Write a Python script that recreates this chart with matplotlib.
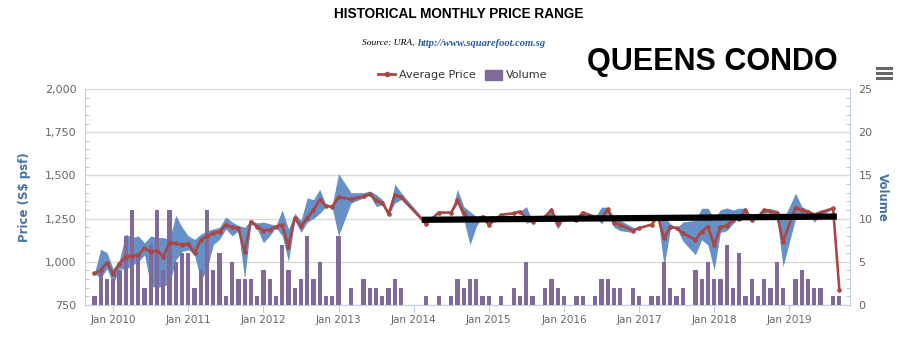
import numpy as np
import matplotlib.pyplot as plt
from matplotlib.lines import Line2D
from matplotlib.patches import Patch

plt.rcParams.update({'font.size': 8, 'font.family': ['DejaVu Sans']})

# month index: 0 = Jan 2010, data runs Oct 2009 (-3) .. Sep 2019 (116)
months = np.arange(-3, 117)

volume = [1, 4, 3,
          3, 4, 8, 11, 6, 2, 7, 11, 4, 11, 5, 6,
          6, 2, 4, 11, 4, 6, 1, 5, 3, 3, 3, 1,
          4, 3, 1, 7, 4, 2, 3, 8, 3, 5, 1, 1,
          8, 0, 2, 0, 3, 2, 2, 1, 2, 3, 2, 0,
          0, 0, 1, 0, 1, 0, 1, 3, 2, 3, 3, 1,
          1, 0, 1, 0, 2, 1, 5, 1, 0, 2, 3, 2,
          1, 0, 1, 1, 0, 1, 3, 3, 2, 2, 0, 2,
          1, 0, 1, 1, 5, 2, 1, 2, 0, 4, 3, 5,
          3, 3, 7, 2, 6, 1, 3, 1, 3, 2, 5, 2,
          0, 3, 4, 3, 2, 2, 0, 1, 1]

nan = np.nan
avg_price = [933, 950, 995,
             930, 990, 1030, 1035, 1040, 1078, 1059, 1065, 1030, 1111, 1107, 1100,
             1105, 1050, 1127, 1150, 1165, 1175, 1214, 1200, 1194, 1059, 1233, 1204,
             1181, 1185, 1204, 1214, 1088, 1252, 1208, 1252, 1300, 1359, 1324, 1320,
             1374, nan, 1362, nan, 1378, 1391, 1355, 1343, 1277, 1388, 1374, nan,
             nan, nan, 1219, nan, 1285, nan, 1285, 1355, 1281, 1240, 1243, 1262,
             1214, nan, 1272, nan, 1281, 1291, 1250, 1233, nan, 1262, 1300, 1220,
             1250, nan, 1240, 1285, nan, 1260, 1255, 1304, 1223, 1214, nan, 1181,
             1195, nan, 1215, 1262, 1136, 1204, 1195, 1165, nan, 1127, 1175, 1204,
             1098, 1200, 1210, 1240, 1250, 1300, 1240, 1262, 1300, 1295, 1280, 1117,
             nan, 1314, 1297, 1290, 1272, 1285, nan, 1310, 837]

high_price = [933, 1073, 1053,
              960, 1010, 1160, 1140, 1150, 1110, 1150, 1140, 1140, 1130, 1270, 1200,
              1150, 1130, 1160, 1180, 1190, 1200, 1260, 1230, 1210, 1200, 1240, 1225,
              1230, 1220, 1210, 1300, 1190, 1280, 1240, 1370, 1360, 1420, 1330, 1330,
              1510, nan, 1400, nan, 1400, 1410, 1390, 1360, 1290, 1450, 1400, nan,
              nan, nan, 1230, nan, 1285, nan, 1285, 1420, 1320, 1291, 1262, 1262,
              1214, nan, 1272, nan, 1290, 1291, 1320, 1233, nan, 1270, 1315, 1240,
              1250, nan, 1240, 1285, nan, 1260, 1316, 1316, 1260, 1240, nan, 1200,
              1195, nan, 1215, 1262, 1262, 1220, 1195, 1230, nan, 1240, 1310, 1310,
              1250, 1300, 1312, 1300, 1310, 1310, 1260, 1262, 1310, 1305, 1300, 1240,
              nan, 1397, 1320, 1300, 1285, 1300, nan, 1315, 837]

low_price = [933, 905, 960,
             870, 960, 955, 980, 1000, 1040, 860, 850, 860, 870, 1010, 1060,
             1070, 1040, 890, 960, 1100, 1130, 1190, 1150, 1180, 900, 1225, 1190,
             1110, 1150, 1200, 1150, 1000, 1240, 1170, 1230, 1250, 1280, 1320, 1310,
             1150, nan, 1340, nan, 1370, 1385, 1320, 1330, 1270, 1340, 1360, nan,
             nan, nan, 1215, nan, 1285, nan, 1285, 1335, 1243, 1098, 1204, 1262,
             1214, nan, 1272, nan, 1275, 1291, 1223, 1233, nan, 1255, 1262, 1190,
             1250, nan, 1240, 1285, nan, 1260, 1220, 1280, 1200, 1180, nan, 1170,
             1195, nan, 1215, 1262, 972, 1190, 1195, 1120, nan, 1040, 1127, 1098,
             953, 1170, 1180, 1220, 1270, 1275, 1230, 1262, 1280, 1285, 1260, 972,
             nan, 1250, 1280, 1275, 1230, 1270, nan, 1305, 837]

# hand-drawn trend line on the screenshot
trend_x = [49.3, 115.6]
trend_y = [1243, 1262]

tick_pos = np.arange(0, 109, 12)
tick_labels = ['Jan %d' % (2010 + i) for i in range(len(tick_pos))]

avg_price = np.array(avg_price, dtype=float)
high_price = np.array(high_price, dtype=float)
low_price = np.array(low_price, dtype=float)
ok = ~np.isnan(avg_price)

W, H = 916, 343
fig = plt.figure(figsize=(W / 100, H / 100), dpi=100)
ax = fig.add_axes([85 / W, 1 - 305 / H, (850 - 85) / W, (305 - 89) / H])
ax2 = ax.twinx()
ax3 = ax.twinx()

grey = '#666666'
axis_col = '#C0D0E0'

# range area (bottom)
ax.fill_between(months[ok], low_price[ok], high_price[ok], color='#6690C8', lw=0, zorder=2)
ax.set_ylim(750, 2000)
ax.set_yticks(np.arange(750, 2001, 250))
ax.set_yticklabels(['{:,}'.format(v) for v in range(750, 2001, 250)])
ax.set_yticks(np.arange(750, 2001, 50), minor=True)
ax.grid(axis='y', color='#D8D8D8', lw=1, zorder=0)
ax.set_axisbelow(True)
ax.set_xlim(-4.5, 117.7)
ax.set_xticks(tick_pos)
ax.set_xticklabels(tick_labels)
ax.tick_params(axis='x', colors=axis_col, labelcolor=grey, length=5, labelsize=7.5, pad=2)
ax.tick_params(axis='y', which='major', colors=axis_col, labelcolor=grey, length=0, labelsize=8, pad=6)
ax.tick_params(axis='y', which='minor', colors='#BBBBBB', length=3, direction='in')
ax.set_ylabel('Price (S$ psf)', color='#4572A7', fontweight='bold', fontsize=8.5, labelpad=10)
for s in ['top', 'right']:
    ax.spines[s].set_visible(False)
ax.spines['left'].set_color(axis_col)
ax.spines['bottom'].set_color(axis_col)

# volume bars (middle)
ax2.bar(months, volume, width=0.68, color='#80699B', zorder=3)
ax2.set_ylim(0, 25)
ax2.set_yticks(np.arange(0, 26, 5))
ax2.set_yticks(np.arange(0, 26, 1), minor=True)
ax2.tick_params(axis='y', which='major', colors=axis_col, labelcolor=grey, length=0, labelsize=8, pad=6)
ax2.tick_params(axis='y', which='minor', colors='#BBBBBB', length=3, direction='in')
ax2.set_ylabel('Volume', color='#4572A7', fontweight='bold', fontsize=8.5, rotation=270, labelpad=12)
for s in ['top', 'left', 'bottom']:
    ax2.spines[s].set_visible(False)
ax2.spines['right'].set_color(axis_col)

# average price line (top)
ax3.plot(months[ok], avg_price[ok], color='#AA4643', lw=1.9, marker='o', ms=2.3, zorder=4)
ax3.plot(trend_x, trend_y, color='black', lw=4.5, solid_capstyle='butt', zorder=5)
ax3.set_ylim(750, 2000)
ax3.set_yticks([])
for s in ax3.spines.values():
    s.set_visible(False)

# titles
fig.text(459 / W, 1 - 14 / H, 'HISTORICAL MONTHLY PRICE RANGE', ha='center', va='center',
         fontsize=9.8, fontweight='bold', family=['Liberation Sans'])
fig.text(414 / W, 1 - 43 / H, 'Source: URA,', ha='right', va='center', fontsize=6.8,
         style='italic', family=['Liberation Serif'])
fig.text(418 / W, 1 - 43 / H, 'http://www.squarefoot.com.sg', ha='left', va='center', fontsize=7.6,
         style='italic', fontweight='bold', color='#2B5C9A', family=['Liberation Serif'])
fig.text(712 / W, 1 - 62 / H, 'QUEENS CONDO', ha='center', va='center',
         fontsize=22, fontweight='bold', family=['Liberation Sans'])

# legend
handles = [Line2D([], [], color='#AA4643', lw=2, marker='o', ms=3),
           Patch(color='#80699B')]
fig.legend(handles, ['Average Price', 'Volume'], loc='center', bbox_to_anchor=(463 / W, 1 - 75 / H),
           ncol=2, frameon=False, fontsize=8, labelcolor='#333333', handlelength=1.5,
           handleheight=1.0, columnspacing=0.8, handletextpad=0.4)

# menu icon
for yy in [68, 73, 78]:
    fig.add_artist(Line2D([877 / W, 891 / W], [1 - yy / H, 1 - yy / H], color='#666666', lw=2.2))

fig.savefig('out.png', dpi=100)
